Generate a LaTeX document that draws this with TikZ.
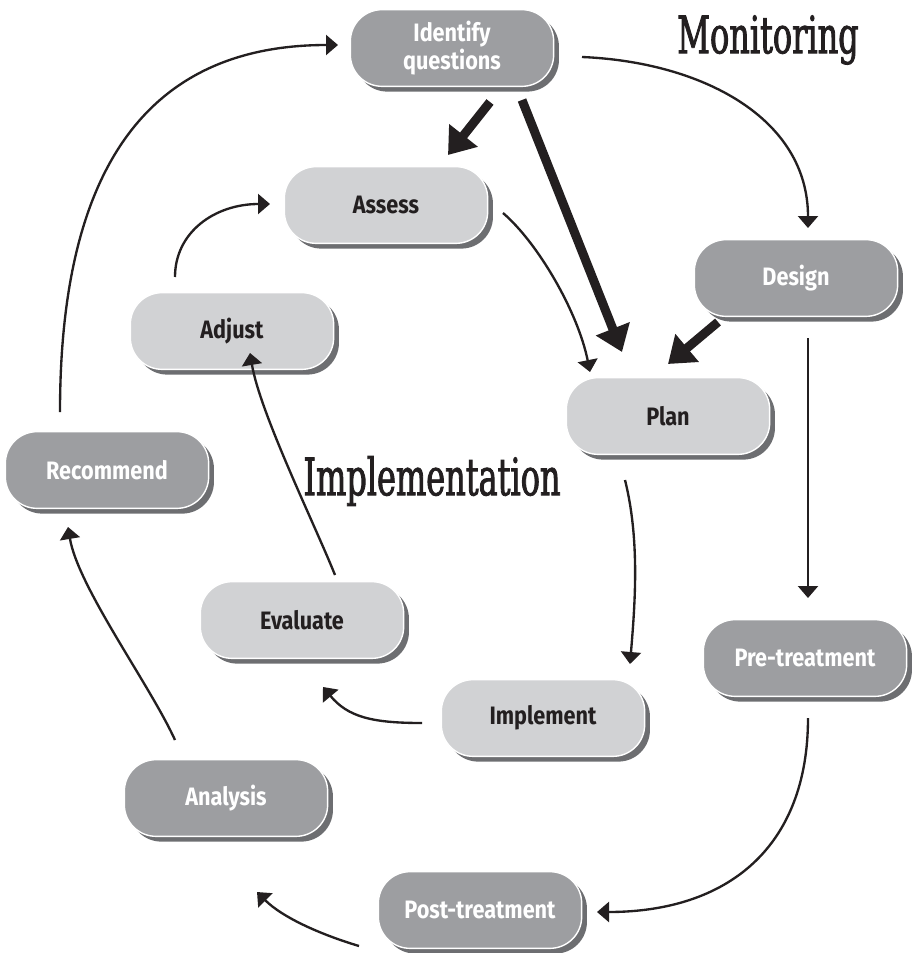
\documentclass[tikz,border=0pt]{standalone}
\usepackage{fontspec}
\setmainfont{Fira Sans}
\newfontfamily\boxfont{Fira Sans}[FakeStretch=0.86]
\newfontfamily\headfont{DejaVu Serif}[FakeStretch=0.62,FakeBold=1.6]
\usetikzlibrary{arrows.meta,shadows,calc}

\definecolor{darkfill}{HTML}{9D9EA1}
\definecolor{lightfill}{HTML}{D1D2D4}
\definecolor{shade}{HTML}{6D6E71}
\definecolor{ink}{HTML}{231F20}

\tikzset{
  stage/.style={rounded corners=0.95cm, minimum width=6.1cm, minimum height=2.3cm,
    draw=white, line width=1.2pt, align=center,
    font=\boxfont\bfseries\fontsize{21.5}{23.5}\selectfont,
    general shadow={shadow xshift=4.5pt, shadow yshift=-4.5pt, fill=shade, draw=none}},
  darkstage/.style={stage, fill=darkfill, text=white},
  lightstage/.style={stage, fill=lightfill, text=ink},
  flow/.style={draw=ink, line width=2pt, -{Triangle[length=0.36cm,width=0.6cm]}},
  bigflow/.style={draw=ink, line width=0.27cm, -{Triangle[length=0.75cm,width=1.05cm]}},
  heading/.style={font=\headfont\fontsize{44}{46}\selectfont, text=ink}
}

\begin{document}
\begin{tikzpicture}[x=0.03cm, y=-0.03cm]
\useasboundingbox (0,0) rectangle (913,953);

% stages of the monitoring cycle
\node[darkstage] (idq) at (452,48) {Identify\\questions};
\node[darkstage] (design) at (796,278) {Design};
\node[darkstage] (pretreat) at (805,658) {Pre-treatment};
\node[darkstage] (posttreat) at (480,910) {Post-treatment};
\node[darkstage] (analysis) at (226,798) {Analysis};
\node[darkstage] (recommend) at (107,470) {Recommend};

% stages of the implementation cycle
\node[lightstage] (assess) at (386,205) {Assess};
\node[lightstage] (adjust) at (232,331) {Adjust};
\node[lightstage] (plan) at (668,416) {Plan};
\node[lightstage] (evaluate) at (302,620) {Evaluate};
\node[lightstage] (implement) at (543,718) {Implement};

% cycle titles
\node[heading] (montitle) at (768,40) {Monitoring};
\node[heading] (imptitle) at (432,481) {Implementation};

% links between the two cycles
\draw[bigflow] ($(idq.center)+(38,54)$) -- ($(assess.center)+(62,-50)$);
\draw[bigflow] ($(idq.center)+(70,52)$) -- ($(plan.center)+(-46,-64)$);
\draw[bigflow] ($(design.center)+(-78,44)$) -- ($(plan.center)+(0,-52)$);

% monitoring cycle
\draw[flow] ($(idq.center)+(130,9)$) .. controls +(120,5) and +(0,-110) .. ($(design.center)+(12,-50)$);
\draw[flow] ($(design.center)+(12,60)$) -- ($(pretreat.center)+(3,-60)$);
\draw[flow] ($(pretreat.center)+(3,60)$) .. controls +(0,130) and +(130,0) .. ($(posttreat.center)+(117,2)$);
\draw[flow] ($(posttreat.center)+(-121,36)$) .. controls +(-40,-12) and +(25,25) .. ($(analysis.center)+(31,94)$);
\draw[flow] ($(analysis.center)+(-51,-58)$) .. controls +(-25,-55) and +(10,60) .. ($(recommend.center)+(-39,57)$);
\draw[flow] ($(recommend.center)+(-47,-58)$) .. controls +(0,-230) and +(-200,0) .. ($(idq.center)+(-114,-3)$);

% implementation cycle
\draw[flow] ($(assess.center)+(117,8)$) .. controls +(35,30) and +(-12,-60) .. ($(plan.center)+(-78,-44)$);
\draw[flow] ($(plan.center)+(-43,64)$) .. controls +(15,60) and +(5,-60) .. ($(implement.center)+(87,-54)$);
\draw[flow] ($(implement.center)+(-121,5)$) .. controls +(-50,0) and +(25,30) .. ($(evaluate.center)+(21,67)$);
\draw[flow] ($(evaluate.center)+(33,-45)$) .. controls +(-20,-50) and +(10,60) .. ($(adjust.center)+(18,22)$);
\draw[flow] ($(adjust.center)+(-57,-54)$) .. controls +(0,-45) and +(-55,0) .. ($(assess.center)+(-116,-1)$);
\end{tikzpicture}
\end{document}
